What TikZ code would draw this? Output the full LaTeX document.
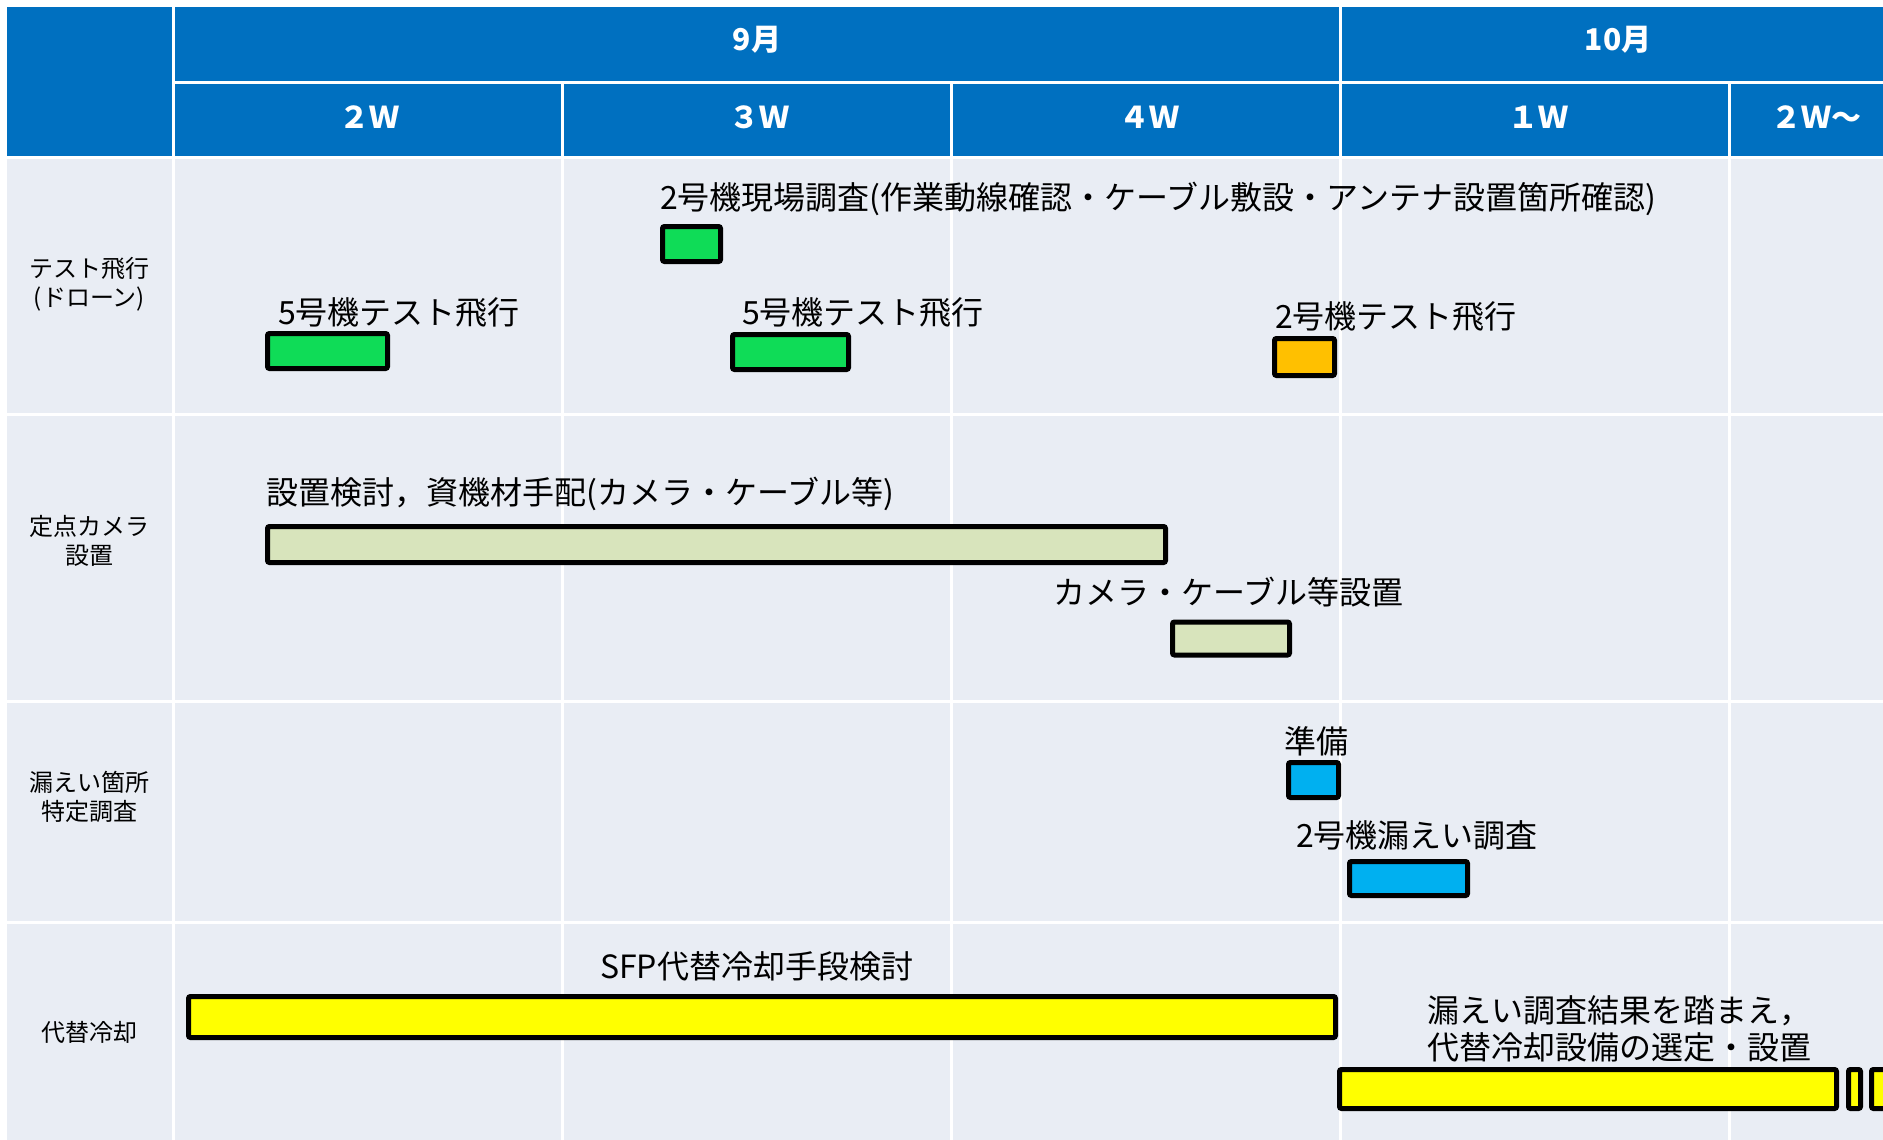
\documentclass[tikz,border=0pt]{standalone}
\usepackage{fontspec}
\setmainfont{Noto Sans CJK JP}
\definecolor{hdr}{HTML}{0070C0}
\definecolor{cellbg}{HTML}{E9EDF4}
\definecolor{grn}{HTML}{0FDC57}
\definecolor{org}{HTML}{FFC000}
\definecolor{tanc}{HTML}{D8E4BC}
\definecolor{blu}{HTML}{00B0F0}
\definecolor{yel}{HTML}{FFFF00}
\begin{document}
\begin{tikzpicture}[x=1pt,y=-1pt,
  bar/.style={draw=black, line width=5pt, rounded corners=2pt, inner sep=0pt, outer sep=0pt},
  lbl/.style={anchor=west, inner sep=0pt, font=\fontsize{32}{37}\selectfont, align=left},
  rowlbl/.style={font=\fontsize{24}{29}\selectfont, align=center, inner sep=0pt},
  hd/.style={font=\fontsize{30}{36}\selectfont\bfseries, text=white, inner sep=0pt},
  gridline/.style={draw=white, line width=3pt}]
\useasboundingbox (0,0) rectangle (1883,1140);
\clip (0,0) rectangle (1883,1140);
\fill[white] (0,0) rectangle (1883,1140);
% table backgrounds
\fill[cellbg] (7,157) rectangle (1910,1150);
\fill[hdr] (7,7) rectangle (1910,157);
% grid lines
\draw[gridline] (174,83) -- (1910,83);
\draw[gridline] (7,157) -- (1910,157);
\draw[gridline] (7,414) -- (1910,414);
\draw[gridline] (7,701) -- (1910,701);
\draw[gridline] (7,922) -- (1910,922);
\draw[gridline] (173,7) -- (173,1150);
\draw[gridline] (1340,7) -- (1340,1150);
\draw[gridline] (562,83) -- (562,1150);
\draw[gridline] (951,83) -- (951,1150);
\draw[gridline] (1729,83) -- (1729,1150);
% header texts
\node[hd] (m9) at (757,40) {9月};
\node[hd] (m10) at (1618,40) {10月};
\node[hd] (w2) at (369,117) {２Ｗ};
\node[hd] (w3) at (759,117) {３Ｗ};
\node[hd] (w4) at (1149,117) {４Ｗ};
\node[hd] (w1) at (1538,117) {１Ｗ};
\node[hd] (w2b) at (1816,117) {２Ｗ～};
% row labels
\node[rowlbl] (r1) at (89.5,284) {テスト飛行\\(ドローン)};
\node[rowlbl] (r2) at (89.5,541) {定点カメラ\\設置};
\node[rowlbl] (r3) at (89.5,797) {漏えい箇所\\特定調査};
\node[rowlbl] (r4) at (89.5,1032) {代替冷却};
% row 1
\node[lbl] (t1) at (660,199) {2号機現場調査(作業動線確認・ケーブル敷設・アンテナ設置箇所確認)};
\node[bar, fill=grn, minimum width=58pt, minimum height=35pt] (b1) at (691.5,244) {};
\node[lbl] (t2) at (278,312) {5号機テスト飛行};
\node[bar, fill=grn, minimum width=120pt, minimum height=35pt] (b2) at (327.5,351) {};
\node[lbl] (t3) at (742,312) {5号機テスト飛行};
\node[bar, fill=grn, minimum width=116pt, minimum height=35pt] (b3) at (790.5,352) {};
\node[lbl] (t4) at (1275,316) {2号機テスト飛行};
\node[bar, fill=org, minimum width=60pt, minimum height=37pt] (b4) at (1304.5,357) {};
% row 2
\node[lbl] (t5) at (266,494) {設置検討，資機材手配(カメラ・ケーブル等)};
\node[bar, fill=tanc, minimum width=898pt, minimum height=36pt] (b5) at (716.5,544.5) {};
\node[lbl] (t6) at (1053,592) {カメラ・ケーブル等設置};
\node[bar, fill=tanc, minimum width=117pt, minimum height=33pt] (b6) at (1231,638.5) {};
% row 3
\node[lbl] (t7) at (1284,741) {準備};
\node[bar, fill=blu, minimum width=50pt, minimum height=35pt] (b7) at (1313.5,780) {};
\node[lbl] (t8) at (1296,835) {2号機漏えい調査};
\node[bar, fill=blu, minimum width=118pt, minimum height=34pt] (b8) at (1408.5,878.5) {};
% row 4
\node[lbl] (t9) at (600,966) {SFP代替冷却手段検討};
\node[bar, fill=yel, minimum width=1147pt, minimum height=41pt] (b9) at (762,1017) {};
\node[lbl] (t10) at (1427,1028.5) {漏えい調査結果を踏まえ，\\代替冷却設備の選定・設置};
\node[bar, fill=yel, minimum width=497pt, minimum height=39pt] (b10) at (1588,1089) {};
\node[bar, fill=yel, minimum width=12pt, minimum height=39pt] (b11) at (1854.5,1089) {};
\node[bar, fill=yel, minimum width=36pt, minimum height=39pt] (b12) at (1889.5,1089) {};
\end{tikzpicture}
\end{document}
